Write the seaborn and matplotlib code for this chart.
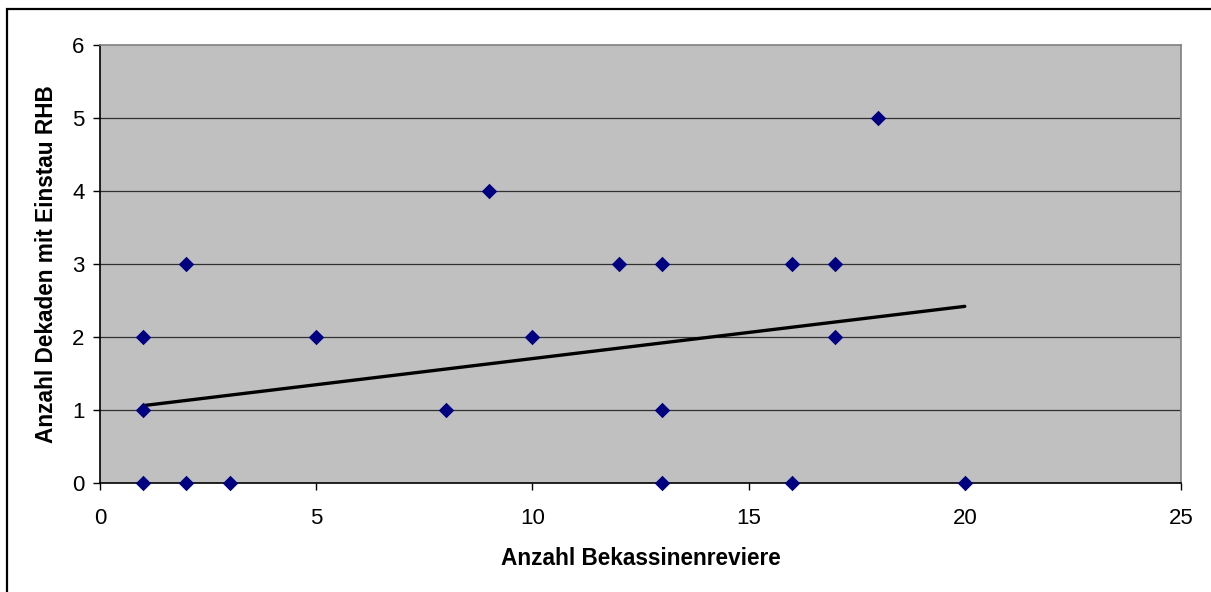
import matplotlib
matplotlib.use("Agg")
import matplotlib.pyplot as plt
import seaborn as sns
import pandas as pd
from matplotlib.patches import Rectangle

# Data
reviere = [1, 1, 1, 2, 2, 3, 5, 8, 9, 10, 12, 13, 13, 13, 16, 16, 17, 17, 18, 20]
dekaden = [0, 1, 2, 0, 3, 0, 2, 1, 4, 2, 3, 3, 1, 0, 3, 0, 3, 2, 5, 0]
trend_x = [1, 20]
trend_y = [1.06, 2.42]
x_ticks = [0, 5, 10, 15, 20, 25]
y_ticks = [0, 1, 2, 3, 4, 5, 6]

sns.set_theme(style="white")
plt.rcParams['font.family'] = ['Liberation Sans', 'DejaVu Sans']
plt.rcParams.update({"text.color": "black", "axes.labelcolor": "black",
                     "xtick.color": "black", "ytick.color": "black"})

df = pd.DataFrame({"x": reviere, "y": dekaden})

W, H = 1211, 592
fig = plt.figure(figsize=(W / 100, H / 100), dpi=100)
ax = fig.add_axes([100 / W, 1 - 483 / H, (1181 - 100) / W, (483 - 45) / H])

# outer chart frame
fig.patches.append(Rectangle((7 / W, -0.1), 1.2, 1 - 9 / H + 0.1, transform=fig.transFigure,
                             fill=False, edgecolor="black", linewidth=1.6, zorder=0))

ax.set_facecolor("#C0C0C0")
for y in y_ticks[1:-1]:
    ax.axhline(y, color="#303030", linewidth=0.9, zorder=1)

sns.lineplot(x=trend_x, y=trend_y, ax=ax, color="black", linewidth=2.4, zorder=2)
sns.scatterplot(data=df, x="x", y="y", ax=ax, marker="D", s=62, color="#000080",
                linewidth=0, zorder=3, clip_on=False)

ax.set_xlim(0, 25)
ax.set_ylim(0, 6)
ax.set_xticks(x_ticks)
ax.set_yticks(y_ticks)
ax.tick_params(axis="both", which="both", direction="out", length=5, width=1,
               color="black", labelcolor="black", labelsize=16, left=True, bottom=True)
ax.tick_params(axis="x", pad=13)
ax.tick_params(axis="y", pad=6)

ax.spines["left"].set_color("black")
ax.spines["bottom"].set_color("black")
ax.spines["top"].set_color("#808080")
ax.spines["right"].set_color("#808080")
for s in ax.spines.values():
    s.set_linewidth(1.2)

ax.set_xlabel("Anzahl Bekassinenreviere", fontsize=16.3, fontweight="bold", labelpad=13,
              color="black")
ax.set_ylabel("Anzahl Dekaden mit Einstau RHB", fontsize=16.3, fontweight="bold", labelpad=10,
              color="black")

fig.savefig("out.png", dpi=100)
